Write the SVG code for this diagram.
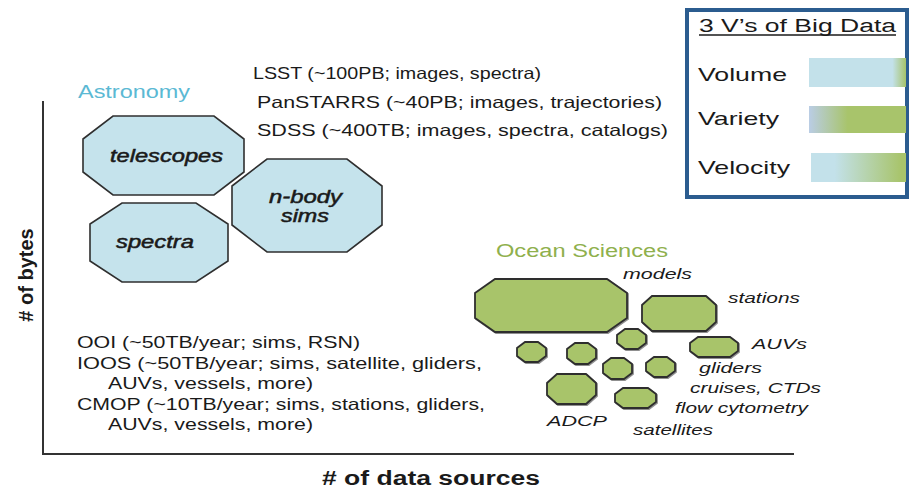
<svg xmlns="http://www.w3.org/2000/svg" width="910" height="488" viewBox="0 0 910 488">
<style>
  .t { font-family: "Liberation Sans", Arial, sans-serif; fill: #1a1a1a; }
  .lab { font-size: 16.5px; }
  .it { font-style: italic; }
  .heavy { stroke: #1a1a1a; stroke-width: 0.5; }
  .astro { fill: #c5e3ec; stroke: #2f2f2f; stroke-width: 1.6; }
  .ocean { fill: #a8c46b; stroke: #2f2f2f; stroke-width: 1.8; filter: url(#sh); }
  .axis { stroke: #333; stroke-width: 2; fill: none; }
</style>
<defs>
  <filter id="sh" x="-20%" y="-20%" width="140%" height="140%">
    <feDropShadow dx="1" dy="1" stdDeviation="0.6" flood-color="#444" flood-opacity="0.6"/>
  </filter>
  <linearGradient id="gVol" x1="0" y1="0" x2="1" y2="0">
    <stop offset="0" stop-color="#c3e1ea"/>
    <stop offset="0.86" stop-color="#c3e1ea"/>
    <stop offset="1" stop-color="#a6c36a"/>
  </linearGradient>
  <linearGradient id="gVar" x1="0" y1="0" x2="1" y2="0">
    <stop offset="0" stop-color="#bacde5"/>
    <stop offset="0.4" stop-color="#a8c46b"/>
    <stop offset="1" stop-color="#a8c46b"/>
  </linearGradient>
  <linearGradient id="gVel" x1="0" y1="0" x2="1" y2="0">
    <stop offset="0" stop-color="#c3e1ea"/>
    <stop offset="0.25" stop-color="#c3e1ea"/>
    <stop offset="0.95" stop-color="#a8c46b"/>
    <stop offset="1" stop-color="#a8c46b"/>
  </linearGradient>
</defs>

<rect width="910" height="488" fill="#ffffff"/>

<g id="axes">
  <line class="axis" x1="43" y1="101" x2="43" y2="455"/>
  <line class="axis" x1="42" y1="454" x2="794" y2="454"/>
  <text class="t" x="26" y="275" font-size="20" font-weight="bold" text-anchor="middle" transform="rotate(-90 26 275)" dy="7"># of bytes</text>
  <text class="t" x="322" y="485" font-size="20" font-weight="bold" textLength="218" lengthAdjust="spacingAndGlyphs"># of data sources</text>
</g>

<g id="astronomy-label">
  <text class="t" x="78" y="98" font-size="18" style="fill:#5bb9d4" textLength="112" lengthAdjust="spacingAndGlyphs">Astronomy</text>
</g>

<g id="astro-projects">
  <text class="t lab" x="253" y="79" textLength="288" lengthAdjust="spacingAndGlyphs">LSST (~100PB; images, spectra)</text>
  <text class="t lab" x="257" y="108" textLength="405" lengthAdjust="spacingAndGlyphs">PanSTARRS (~40PB; images, trajectories)</text>
  <text class="t lab" x="257" y="136" textLength="411" lengthAdjust="spacingAndGlyphs">SDSS (~400TB; images, spectra, catalogs)</text>
</g>

<g id="telescopes">
  <polygon class="astro" points="113,116 214,116 244,139 244,172 214,195 113,195 83,172 83,139"/>
  <text class="t it heavy" x="110" y="162" font-size="18" textLength="113" lengthAdjust="spacingAndGlyphs">telescopes</text>
</g>
<g id="spectra">
  <polygon class="astro" points="122,203 196,203 228,224 228,261 196,282 122,282 90,261 90,224"/>
  <text class="t it heavy" x="116" y="248" font-size="18" textLength="78" lengthAdjust="spacingAndGlyphs">spectra</text>
</g>
<g id="nbody">
  <polygon class="astro" points="267,159 347,159 382,186 382,225 347,252 267,252 232,225 232,186"/>
  <text class="t it heavy" x="269" y="203" font-size="18" textLength="73" lengthAdjust="spacingAndGlyphs">n-body</text>
  <text class="t it heavy" x="281" y="222" font-size="18" textLength="48" lengthAdjust="spacingAndGlyphs">sims</text>
</g>

<g id="ocean-projects">
  <text class="t lab" x="77" y="348" textLength="283" lengthAdjust="spacingAndGlyphs">OOI (~50TB/year; sims, RSN)</text>
  <text class="t lab" x="77" y="369" textLength="405" lengthAdjust="spacingAndGlyphs">IOOS (~50TB/year; sims, satellite, gliders,</text>
  <text class="t lab" x="108" y="389" textLength="205" lengthAdjust="spacingAndGlyphs">AUVs, vessels, more)</text>
  <text class="t lab" x="77" y="410" textLength="408" lengthAdjust="spacingAndGlyphs">CMOP (~10TB/year; sims, stations, gliders,</text>
  <text class="t lab" x="108" y="430" textLength="205" lengthAdjust="spacingAndGlyphs">AUVs, vessels, more)</text>
</g>

<g id="ocean-label">
  <text class="t" x="496" y="257" font-size="18" style="fill:#8fb04d" textLength="172" lengthAdjust="spacingAndGlyphs">Ocean Sciences</text>
</g>

<g id="models">
  <polygon class="ocean" points="495,279 607,279 627,293 627,318 607,332 495,332 475,318 475,293"/>
  <text class="t it" x="623" y="279" font-size="15.5" textLength="69" lengthAdjust="spacingAndGlyphs">models</text>
</g>
<g id="stations">
  <polygon class="ocean" points="652,296 706,296 716,305 716,322 706,331 652,331 642,322 642,305"/>
  <text class="t it" x="728" y="303" font-size="15.5" textLength="72" lengthAdjust="spacingAndGlyphs">stations</text>
</g>
<g id="auvs">
  <polygon class="ocean" points="698,337 730,337 738,343 738,351 730,357 698,357 690,351 690,343"/>
  <text class="t it" x="752" y="349" font-size="15.5" textLength="55" lengthAdjust="spacingAndGlyphs">AUVs</text>
</g>
<g id="oct-a"><polygon class="ocean" points="625,329 638,329 646,335 646,343 638,349 625,349 617,343 617,335"/></g>
<g id="oct-b"><polygon class="ocean" points="525,342 538,342 546,348 546,356 538,362 525,362 517,356 517,348"/></g>
<g id="oct-c"><polygon class="ocean" points="575,343 588,343 596,349 596,358 588,364 575,364 567,358 567,349"/></g>
<g id="oct-d"><polygon class="ocean" points="611,358 624,358 632,364 632,373 624,379 611,379 603,373 603,364"/></g>
<g id="oct-e"><polygon class="ocean" points="654,357 667,357 675,363 675,371 667,377 654,377 646,371 646,363"/></g>
<g id="adcp">
  <polygon class="ocean" points="557,374 586,374 596,383 596,395 586,404 557,404 547,395 547,383"/>
  <text class="t it" x="547" y="426" font-size="15.5" textLength="60" lengthAdjust="spacingAndGlyphs">ADCP</text>
</g>
<g id="satellites">
  <polygon class="ocean" points="623,388 648,388 656,394 656,402 648,408 623,408 615,402 615,394"/>
  <text class="t it" x="633" y="435" font-size="15.5" textLength="80" lengthAdjust="spacingAndGlyphs">satellites</text>
</g>
<g id="ocean-labels">
  <text class="t it" x="699" y="373" font-size="15.5" textLength="63" lengthAdjust="spacingAndGlyphs">gliders</text>
  <text class="t it" x="690" y="393" font-size="15.5" textLength="131" lengthAdjust="spacingAndGlyphs">cruises, CTDs</text>
  <text class="t it" x="675" y="413" font-size="15.5" textLength="133" lengthAdjust="spacingAndGlyphs">flow cytometry</text>
</g>

<g id="legend">
  <rect x="687" y="10" width="220" height="187" fill="#ffffff" stroke="#2b5c8f" stroke-width="4"/>
  <text class="t" x="699" y="32" font-size="18" textLength="197" lengthAdjust="spacingAndGlyphs">3 V’s of Big Data</text>
  <line x1="699" y1="35" x2="896" y2="35" stroke="#1a1a1a" stroke-width="1.3"/>
  <text class="t" x="698" y="81" font-size="19" textLength="89" lengthAdjust="spacingAndGlyphs">Volume</text>
  <rect x="809" y="58" width="97" height="29" fill="url(#gVol)"/>
  <text class="t" x="698" y="125" font-size="19" textLength="81" lengthAdjust="spacingAndGlyphs">Variety</text>
  <rect x="809" y="106" width="97" height="27" fill="url(#gVar)"/>
  <text class="t" x="698" y="174" font-size="19" textLength="92" lengthAdjust="spacingAndGlyphs">Velocity</text>
  <rect x="811" y="153" width="95" height="29" fill="url(#gVel)"/>
</g>
</svg>
